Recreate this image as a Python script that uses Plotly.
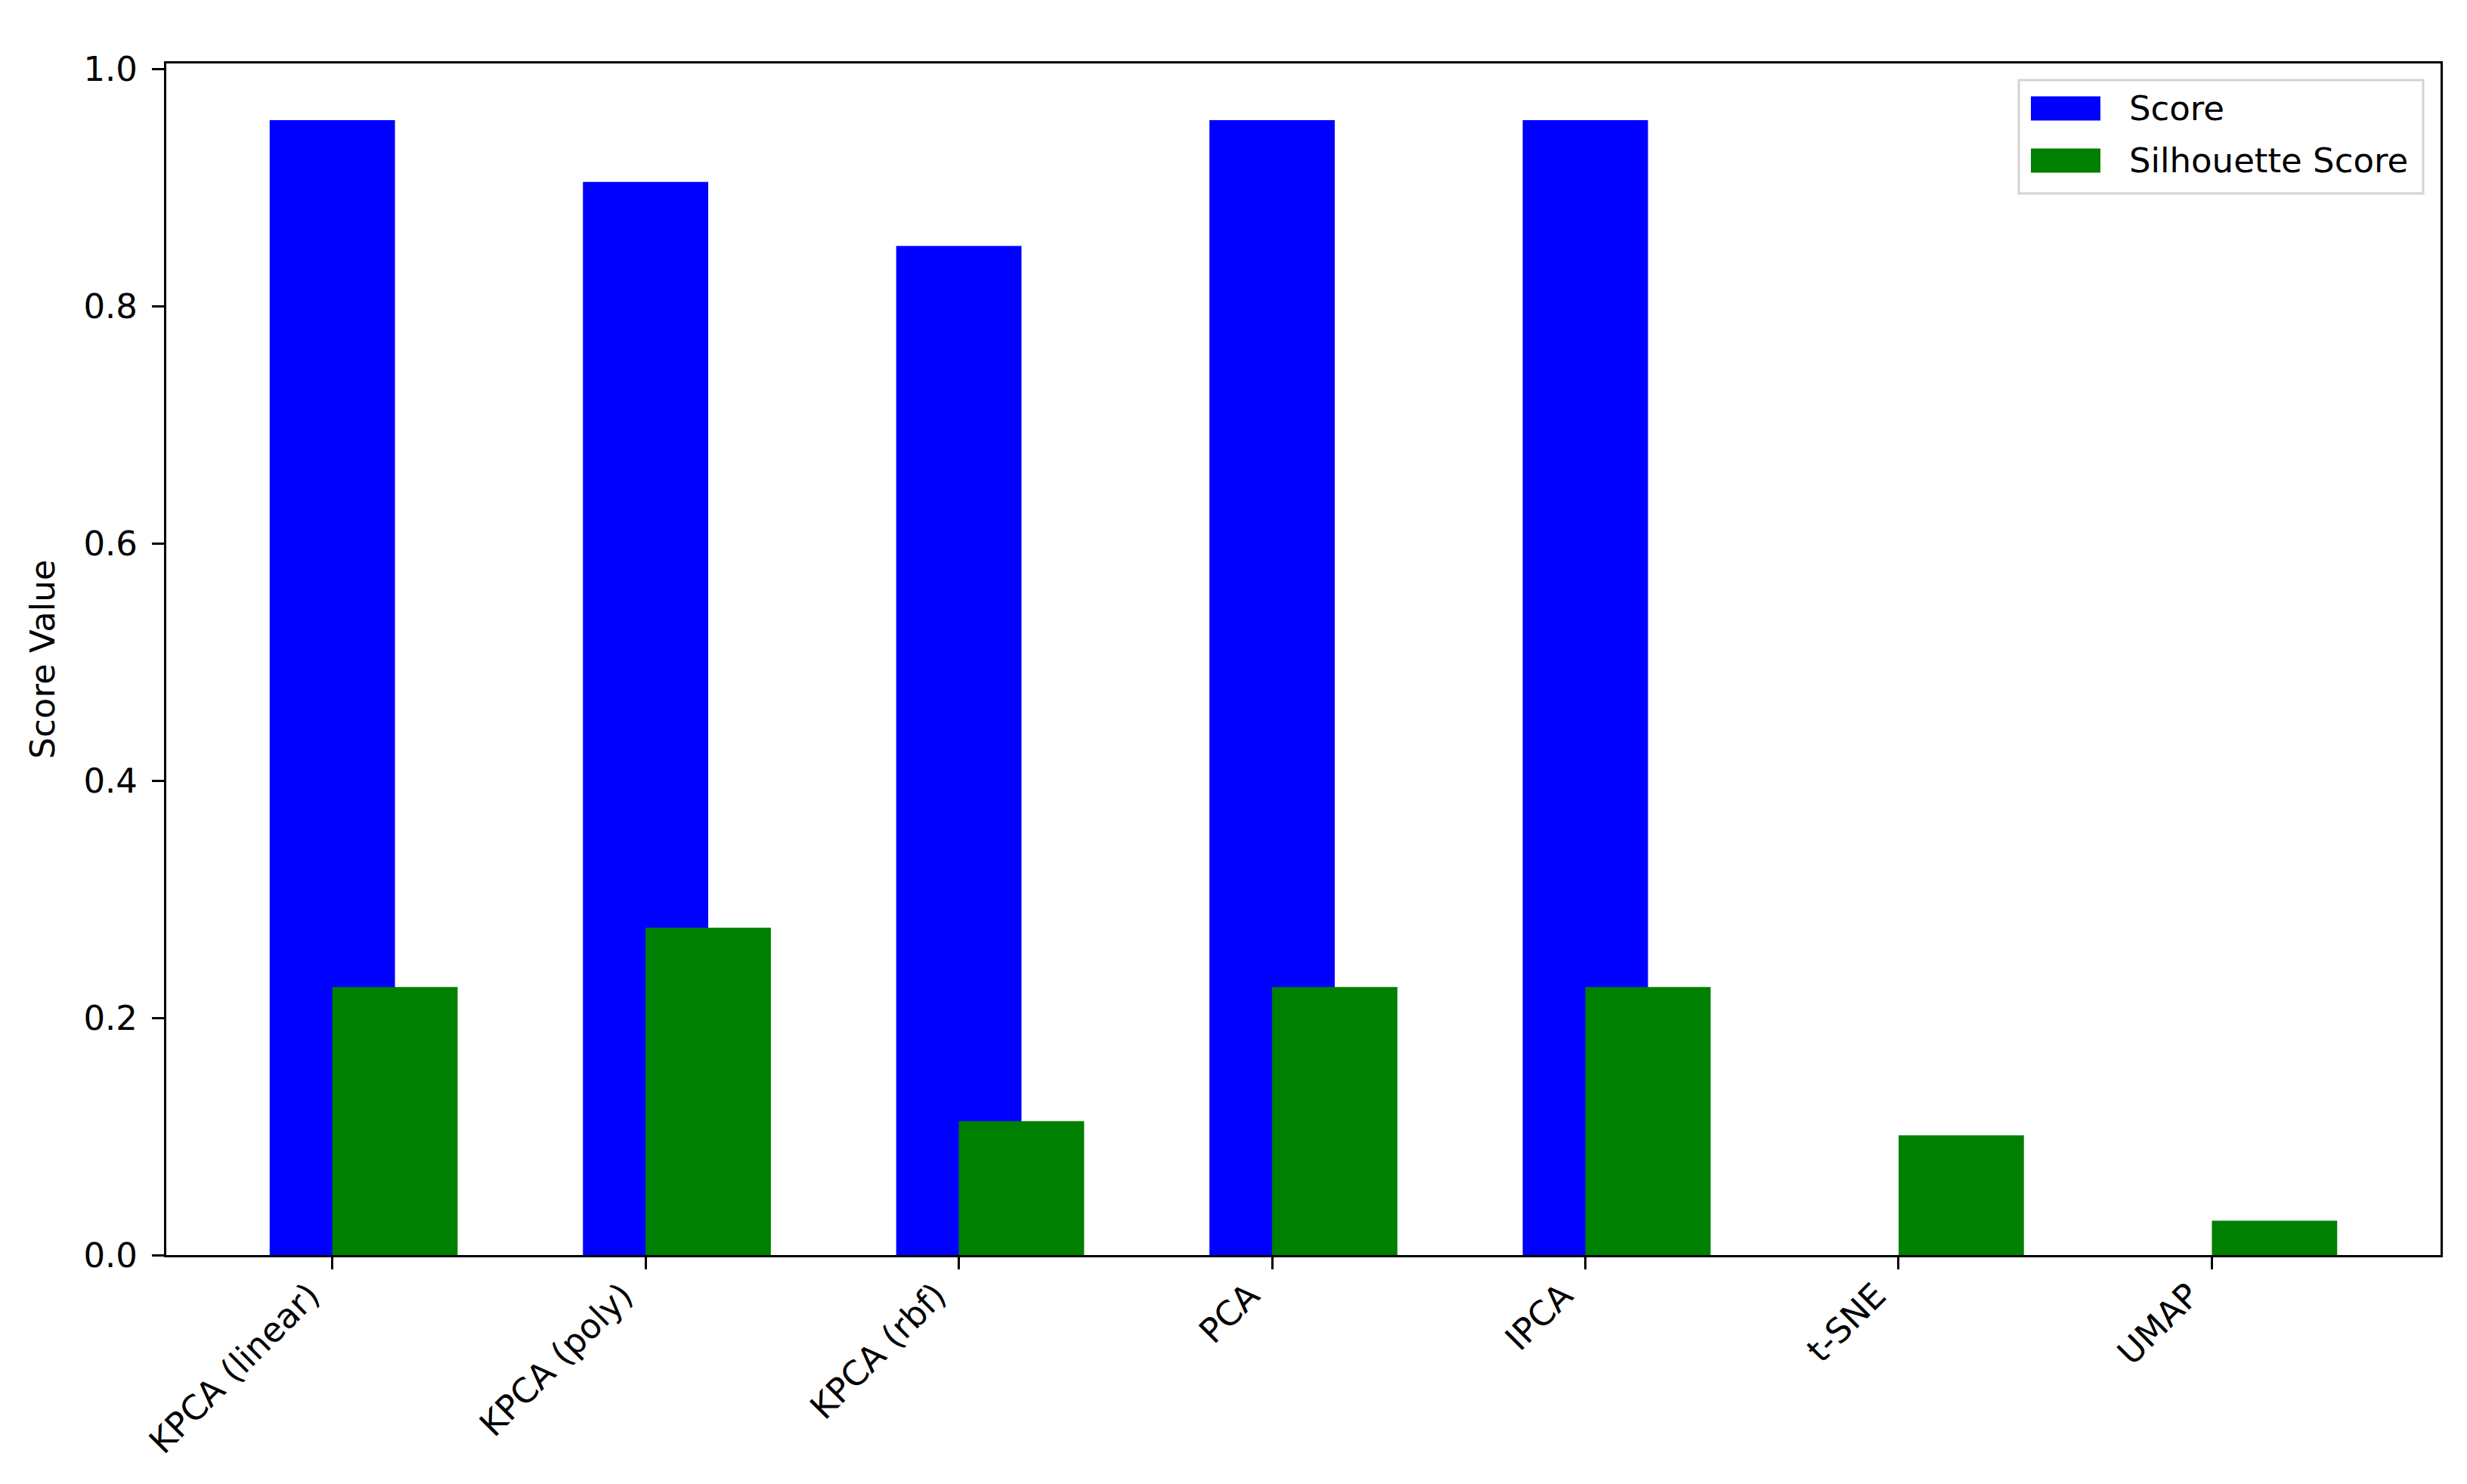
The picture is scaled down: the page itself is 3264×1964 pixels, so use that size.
import plotly.graph_objects as go

methods = ["KPCA (linear)", "KPCA (poly)", "KPCA (rbf)", "PCA", "IPCA", "t-SNE", "UMAP"]
score = [0.957, 0.905, 0.851, 0.957, 0.957, 0.0, 0.0]
silhouette = [0.226, 0.276, 0.113, 0.226, 0.226, 0.101, 0.029]
y_ticks = [0.0, 0.2, 0.4, 0.6, 0.8, 1.0]

W, H = 3264, 1964
ML, MR, MT, MB = 212, 43, 76, 311
PW, PH = W - ML - MR, H - MT - MB
FONT = "DejaVu Sans"
FS = 45


def px(x):
    return (x - ML) / PW


def py(y):
    return (H - MB - y) / PH


fig = go.Figure()

fig.add_trace(
    go.Bar(
        x=methods,
        y=score,
        name="Score",
        width=0.4,
        offset=-0.2,
        marker=dict(color="#0000ff", line=dict(width=0)),
        opacity=1,
        showlegend=False,
    )
)
fig.add_trace(
    go.Bar(
        x=methods,
        y=silhouette,
        name="Silhouette Score",
        width=0.4,
        offset=0.0,
        marker=dict(color="#008000", line=dict(width=0)),
        opacity=1,
        showlegend=False,
    )
)

fig.update_layout(
    width=W,
    height=H,
    barmode="overlay",
    plot_bgcolor="white",
    paper_bgcolor="white",
    font=dict(family=FONT, size=FS, color="black"),
    margin=dict(l=ML, r=MR, t=MT, b=MB, autoexpand=False),
)

fig.update_xaxes(
    type="category",
    range=[-0.53, 6.73],
    tickangle=-45,
    ticks="outside",
    ticklen=16,
    tickwidth=3,
    tickcolor="black",
    ticklabelshift=-30,
    ticklabelstandoff=-10,
    showline=True,
    linecolor="black",
    linewidth=3,
    mirror=True,
    showgrid=False,
    zeroline=False,
    tickfont=dict(family=FONT, size=FS, color="black"),
)

fig.update_yaxes(
    range=[0, 0.957 * 1.05],
    tickvals=y_ticks,
    tickformat=".1f",
    ticks="outside",
    ticklen=16,
    tickwidth=3,
    tickcolor="black",
    ticklabelstandoff=10,
    showline=True,
    linecolor="black",
    linewidth=3,
    mirror=True,
    showgrid=False,
    zeroline=False,
    tickfont=dict(family=FONT, size=FS, color="black"),
    title=dict(text="Score Value", font=dict(family=FONT, size=FS, color="black"), standoff=24),
)

# legend drawn by hand so the patches keep matplotlib proportions
legend_items = [("Score", "#0000ff", 135.5), ("Silhouette Score", "#008000", 204.5)]
fig.add_shape(
    type="rect", xref="paper", yref="paper",
    x0=px(2663), x1=px(3198), y0=py(248), y1=py(98),
    line=dict(color="#d4d4d4", width=3), fillcolor="rgba(255,255,255,0.8)",
)
for label, color, cy in legend_items:
    fig.add_shape(
        type="rect", xref="paper", yref="paper",
        x0=px(2679), x1=px(2771), y0=py(cy + 16), y1=py(cy - 16),
        line=dict(width=0), fillcolor=color,
    )
    fig.add_annotation(
        x=px(2807), y=py(cy), xref="paper", yref="paper",
        text=label, showarrow=False, xanchor="left", yanchor="middle",
        font=dict(family=FONT, size=FS, color="black"),
    )

fig.write_html("out.html")
